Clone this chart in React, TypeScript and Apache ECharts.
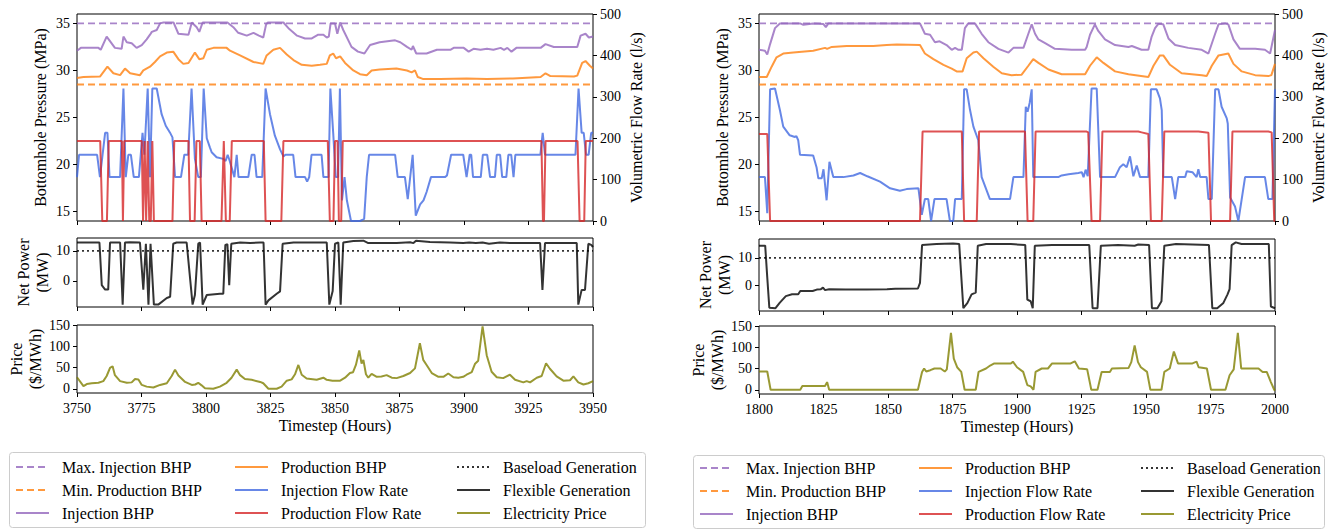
import React, { useEffect, useRef } from "react";
import * as echarts from "echarts";

const FONT = "Liberation Serif";

// ---------- constants / ticks ----------
const maxInjectionBhp = 35;
const minProductionBhp = 28.5;
const baseloadMW = 10;
const rangeL = [3750, 3950];
const rangeR = [1800, 2000];
const hourTicksL = [3750, 3775, 3800, 3825, 3850, 3875, 3900, 3925, 3950];
const hourTicksR = [1800, 1825, 1850, 1875, 1900, 1925, 1950, 1975, 2000];
const bhpTicks = [15, 20, 25, 30, 35];
const flowTicks = [0, 100, 200, 300, 400, 500];
const powerTicks = [0, 10];
const priceTicks = [0, 50, 100, 150];

// ---------- left panel (hours 3750-3950) ----------
const injBhpL: [number, number][] = [
  [3750, 32.1], [3751.5, 32.4], [3758.3, 32.4], [3759.2, 32.2], [3761.5, 33.6], [3764.7, 32.4], [3767.3, 32.3],
  [3768, 33.6], [3769.3, 33.0], [3771.2, 32.9], [3773.1, 32.4], [3775.1, 32.7], [3777, 33.3], [3778.3, 33.8],
  [3779, 34.1], [3780.9, 34.3], [3782.2, 35.0], [3783.5, 35.1], [3787.4, 35.1], [3789.3, 33.9], [3793.2, 33.8],
  [3794.5, 35.1], [3796.4, 34.6], [3797.4, 34.1], [3798.7, 35.1], [3808.3, 35.1], [3810.6, 34.6], [3812.5, 34.0],
  [3815.8, 33.7], [3818.4, 34.0], [3820.5, 33.7], [3822.2, 33.5], [3823.3, 34.9], [3824, 35.1], [3830, 35.1],
  [3832.3, 34.4], [3835.3, 33.7], [3838.4, 33.4], [3841, 33.4], [3843.5, 33.8], [3845.5, 33.8], [3846.8, 33.5],
  [3847.6, 33.6], [3848.3, 35.0], [3850, 35.0], [3850.9, 33.9], [3852, 35.1], [3853.2, 34.3], [3856.4, 32.5],
  [3858.9, 32.0], [3861.4, 31.8], [3863.6, 32.7], [3867.3, 33.0], [3873.3, 33.2], [3875.3, 33.0], [3877.9, 32.5],
  [3879.7, 32.2], [3880.2, 32.6], [3881.5, 31.8], [3885.5, 31.8], [3889.5, 32.2], [3894.7, 32.2], [3896, 32.4],
  [3899.9, 32.4], [3901.8, 32.0], [3903.7, 32.3], [3906.4, 32.2], [3908.9, 32.3], [3911.4, 32.2], [3914.2, 32.4],
  [3915.5, 32.2], [3916.8, 32.4], [3918.4, 32.0], [3920.3, 32.4], [3929.7, 32.4], [3931.6, 32.8], [3934.8, 32.5],
  [3943.9, 32.5], [3945.2, 33.7], [3947.1, 33.9], [3948.4, 33.5], [3950, 33.6],
];
const prodBhpL: [number, number][] = [
  [3750, 29.2], [3752.5, 29.3], [3758.9, 29.35], [3761.8, 30.4], [3764.1, 29.7], [3766.7, 29.5], [3768.6, 30.2],
  [3770.6, 29.7], [3774.4, 29.5], [3775.7, 30.0], [3778.3, 30.4], [3780.2, 30.9], [3782.2, 31.5], [3784.8, 31.9],
  [3787.3, 32.0], [3789.3, 31.2], [3791.2, 30.7], [3793.2, 30.8], [3795.7, 31.9], [3797.4, 31.2], [3799, 31.3],
  [3800.3, 32.2], [3802.9, 32.4], [3808, 32.4], [3809.3, 32.1], [3813.2, 31.6], [3818.4, 30.9], [3822.2, 30.7],
  [3823.5, 31.6], [3826.1, 32.2], [3828.7, 32.4], [3831.3, 31.7], [3833.9, 31.1], [3837.1, 30.6], [3841, 30.5],
  [3844.2, 30.6], [3846.8, 30.7], [3848, 31.6], [3849.3, 31.8], [3850.4, 31.3], [3852, 31.5], [3853.9, 30.8],
  [3857.1, 30.0], [3859.7, 29.6], [3862.3, 29.5], [3864.2, 30.0], [3867.3, 30.1], [3873.8, 30.2], [3877.9, 30.0],
  [3879.7, 29.8], [3881, 30.0], [3882.1, 29.3], [3884, 29.1], [3890.8, 29.1], [3901, 29.15], [3908.9, 29.1],
  [3919, 29.15], [3929.7, 29.3], [3931.6, 29.7], [3933.5, 29.4], [3942.6, 29.35], [3943.9, 29.45], [3945.8, 30.8],
  [3947.1, 31.0], [3948.8, 30.5], [3950, 30.2],
];
const injFlowL: [number, number][] = [
  [3750, 106], [3750.8, 160], [3757.8, 160], [3758.9, 106], [3760.9, 213], [3761.8, 213], [3762.6, 106],
  [3766.7, 106], [3768, 320], [3768.9, 106], [3769.9, 160], [3770.9, 160], [3772, 106], [3774, 106],
  [3775.4, 213], [3776.1, 160], [3777.4, 320], [3778.3, 106], [3779.2, 320], [3780.9, 320], [3782.8, 258],
  [3784.4, 230], [3786, 214], [3787, 202], [3788, 106], [3790.3, 106], [3791.6, 160], [3793.1, 160],
  [3794.4, 320], [3795.7, 150], [3797, 106], [3798, 106], [3799.1, 320], [3800.3, 200], [3801.5, 178],
  [3802.2, 166], [3804.1, 154], [3806.7, 150], [3807.6, 145], [3808.4, 160], [3809.2, 145], [3811, 106],
  [3811.9, 160], [3812.6, 106], [3816.4, 106], [3817.7, 160], [3818.8, 160], [3819.6, 106], [3821.8, 106],
  [3823.1, 320], [3824.8, 258], [3826.7, 206], [3828.7, 173], [3830, 156], [3830.8, 160], [3833.8, 160],
  [3834.7, 106], [3838.4, 106], [3839.2, 95], [3840, 106], [3840.9, 160], [3844.8, 160], [3845.5, 106],
  [3847.5, 106], [3848.2, 320], [3849.3, 213], [3850.3, 106], [3851.2, 106], [3851.9, 320], [3852.7, 50],
  [3853.7, 106], [3854.6, 50], [3856.2, 0], [3859.7, 0], [3861.3, 5], [3862.3, 106], [3863.2, 160],
  [3873.3, 160], [3874.3, 106], [3877.1, 106], [3878.2, 53], [3880.1, 160], [3881.3, 13], [3883, 40],
  [3884.3, 50], [3885.5, 70], [3887.2, 106], [3892.6, 106], [3893.4, 110], [3895, 160], [3899.7, 160],
  [3901, 106], [3902.2, 160], [3902.8, 160], [3903.5, 106], [3906.5, 106], [3907.3, 160], [3909, 160],
  [3910.1, 106], [3912, 106], [3912.7, 160], [3914, 160], [3914.8, 106], [3916.4, 106], [3917.2, 160],
  [3918.3, 160], [3919.2, 106], [3919.9, 160], [3929.6, 160], [3930.5, 213], [3931.4, 160], [3943.2, 160],
  [3944.4, 320], [3945.6, 213], [3946.4, 213], [3947.3, 160], [3948.3, 160], [3949.3, 213], [3950, 213],
];
const prodFlowL: [number, number][] = [
  [3750, 193], [3759, 193], [3759.8, 0], [3761.6, 0], [3762.3, 193], [3767.4, 193], [3767.8, 0], [3768.3, 193],
  [3775.1, 193], [3775.6, 0], [3776.2, 193], [3776.8, 0], [3777.4, 193], [3778, 0], [3778.6, 0], [3779.2, 193],
  [3779.8, 0], [3787, 0], [3787.7, 193], [3793.2, 193], [3793.8, 0], [3795.6, 0], [3796.3, 193], [3797.6, 193],
  [3798.3, 0], [3806, 0], [3806.9, 193], [3807.7, 0], [3809.2, 0], [3810, 193], [3822.4, 193], [3823.1, 0],
  [3829.2, 0], [3830, 193], [3847.2, 193], [3848, 0], [3849.4, 0], [3850, 193], [3851, 193], [3851.5, 0],
  [3852.4, 0], [3853, 193], [3930, 193], [3930.6, 0], [3931, 0], [3931.6, 193], [3944, 193], [3944.8, 0],
  [3946.6, 0], [3947.2, 193], [3950, 193],
];
const netPowerL: [number, number][] = [
  [3750, 12.8], [3758.7, 12.8], [3759.6, -1.4], [3760.9, -2.9], [3762.1, -2.9], [3762.8, 12.8], [3766.7, 12.8],
  [3767.7, -7.9], [3768.6, 12.8], [3770.5, 12.9], [3774.4, 12.8], [3775.7, -2.9], [3776.7, 12.4], [3777.7, -7.9],
  [3778.5, 12.4], [3779.8, -7.9], [3781.5, -7.9], [3784.8, -5.7], [3786.1, -5.3], [3787.3, 12.4], [3788.6, 12.8],
  [3792.5, 12.8], [3794.8, -7.9], [3795.7, -4.7], [3797, 12.4], [3797.7, 12.8], [3798.7, -7.9], [3800.3, -4.7],
  [3805.4, -4.3], [3806.7, -4.3], [3807.5, 12.0], [3808.3, 12.2], [3809, -1.4], [3809.8, 12.4], [3813.2, 12.8],
  [3817.1, 12.6], [3821, 12.8], [3822.3, 12.8], [3823.1, -7.9], [3824.2, -6.5], [3827.4, -4.3], [3828.7, -3.5],
  [3829.7, 12.4], [3833.9, 12.8], [3846.8, 12.8], [3847.8, -7.9], [3849.1, -3.4], [3850, 12.4], [3851.3, 12.8],
  [3852.2, -7.9], [3853.2, 12.8], [3857.1, 13.3], [3861, 13.4], [3862.9, 12.6], [3873.9, 12.6], [3879.1, 12.9],
  [3880.4, 12.6], [3881.4, 13.4], [3886.8, 13.0], [3894.6, 12.8], [3899.7, 12.6], [3902, 12.8], [3904.6, 12.6],
  [3907.2, 12.8], [3909.7, 12.4], [3913.9, 12.8], [3917.8, 12.6], [3929.5, 12.6], [3930.4, -3.0], [3931.4, 12.6],
  [3943.7, 12.6], [3944.3, -7.9], [3945.6, -3.0], [3946.9, -3.0], [3948.2, 12.4], [3949.3, 12.0], [3950, 11.3],
];
const priceL: [number, number][] = [
  [3750, 27], [3752.5, 6], [3753.8, 11], [3755.7, 13], [3758.3, 14], [3760.2, 18], [3761.5, 30], [3762.8, 49],
  [3763.8, 53], [3764.7, 32], [3766.7, 18], [3769.3, 14], [3771.2, 15], [3772.5, 23], [3773.8, 22], [3775.1, 9],
  [3777, 5], [3779.6, 3], [3782.2, 9], [3784.8, 13], [3786.7, 30], [3788, 45], [3789.3, 31], [3791.9, 16],
  [3794.5, 9], [3795.8, 10], [3797, 14], [3798.3, 8], [3799.6, 1], [3802.8, 0], [3805.4, 5], [3808, 14],
  [3809.9, 26], [3811.9, 45], [3813.2, 32], [3815.1, 23], [3817.7, 21], [3821, 16], [3822.2, 13], [3824.2, 0],
  [3827.4, 0], [3829.3, 5], [3831.3, 19], [3833.2, 22], [3834.5, 34], [3835.8, 56], [3837.1, 33], [3839, 24],
  [3842.9, 21], [3845.5, 26], [3846.8, 21], [3849, 19], [3852, 19], [3853.9, 26], [3855.8, 37], [3857, 39],
  [3858.1, 56], [3859.4, 90], [3860.3, 59], [3861, 68], [3862, 34], [3862.9, 26], [3864.2, 35], [3866.2, 28],
  [3868, 29], [3870, 32], [3872, 26], [3873.9, 25], [3876.5, 30], [3879.1, 37], [3881, 48], [3882.9, 107],
  [3884.2, 68], [3885.5, 56], [3887.5, 37], [3890.1, 28], [3892, 28], [3893.9, 36], [3895.9, 27], [3897.8, 26],
  [3899.7, 28], [3901, 33], [3903, 39], [3904.3, 59], [3905.5, 66], [3907.2, 147], [3908.8, 79], [3910.7, 40],
  [3912.7, 27], [3915.2, 25], [3917.8, 33], [3919.8, 21], [3923, 15], [3924.3, 18], [3925.6, 15], [3928.2, 26],
  [3930.1, 30], [3931.8, 60], [3933.3, 47], [3935.9, 29], [3938.5, 19], [3941.1, 20], [3942.4, 29], [3944.3, 15],
  [3946.3, 10], [3948.2, 13], [3950, 18],
];

// ---------- right panel (hours 1800-2000) ----------
const injBhpR: [number, number][] = [
  [1800, 32.2], [1802.3, 32.1], [1803.2, 31.7], [1804.3, 32.8], [1806.2, 34.5], [1808.1, 35.0], [1815.9, 35.0],
  [1817.2, 34.85], [1821, 35.0], [1824.9, 34.95], [1825.9, 34.6], [1826.9, 35.0], [1862.4, 35.0], [1864.3, 33.9],
  [1866.3, 33.8], [1868.2, 33.0], [1870, 33.1], [1872.7, 32.7], [1874.7, 32.2], [1876, 32.4], [1877.3, 32.2],
  [1878.6, 32.2], [1879.8, 34.5], [1881.1, 35.0], [1883.7, 35.0], [1886.3, 33.9], [1888.9, 33.0], [1892.8, 32.3],
  [1896.7, 31.9], [1898.6, 32.4], [1902.5, 32.4], [1904.4, 33.9], [1905.7, 34.9], [1907, 33.9], [1908.3, 33.3],
  [1910.9, 32.9], [1914.7, 32.3], [1921.2, 32.2], [1926.4, 32.2], [1927, 32.5], [1928.3, 33.8], [1930.2, 34.9],
  [1931.5, 34.2], [1934.1, 33.3], [1938, 32.7], [1943.2, 32.5], [1944.5, 32.6], [1948.3, 32.2], [1950.9, 32.2],
  [1952.2, 33.6], [1953.5, 34.5], [1954.8, 34.95], [1956.7, 34.9], [1958.7, 33.4], [1961.3, 32.7], [1966.4, 32.4],
  [1971.6, 32.2], [1974.2, 31.8], [1976.8, 33.9], [1978.1, 34.9], [1980.6, 35.0], [1981.9, 34.9], [1983.9, 33.3],
  [1986.4, 32.3], [1992.3, 32.3], [1996.1, 32.2], [1998.1, 31.8], [2000, 34.3],
];
const prodBhpR: [number, number][] = [
  [1800, 29.3], [1803, 29.3], [1804.9, 30.4], [1806.8, 31.4], [1809.4, 31.8], [1813.3, 31.9], [1821, 32.1],
  [1825.6, 32.4], [1826.4, 32.3], [1828.2, 32.5], [1834, 32.6], [1844.3, 32.6], [1849.5, 32.7], [1853.4, 32.75],
  [1862.4, 32.7], [1864.3, 31.8], [1867.6, 31.2], [1871.5, 30.6], [1874.7, 30.2], [1876.6, 29.9], [1878.9, 29.9],
  [1880.5, 31.3], [1883.1, 31.9], [1884.4, 32.0], [1887, 31.3], [1890.8, 30.4], [1894.1, 29.7], [1897.9, 29.5],
  [1901.8, 29.55], [1904.4, 30.5], [1906.3, 31.2], [1908.3, 30.8], [1912.2, 30.1], [1917.3, 29.6], [1926.4, 29.6],
  [1928.3, 30.5], [1930.9, 31.4], [1933.5, 30.8], [1938, 29.9], [1943.2, 29.6], [1950.9, 29.3], [1952.9, 30.5],
  [1955.4, 31.6], [1956.7, 31.6], [1959.3, 30.6], [1963.8, 29.7], [1971.6, 29.5], [1973.5, 29.4], [1975.5, 30.5],
  [1978.1, 31.6], [1981.9, 31.8], [1983.9, 30.7], [1987.1, 29.9], [1992.3, 29.5], [1997.4, 29.4], [1998.6, 29.5],
  [2000, 30.7],
];
const injFlowR: [number, number][] = [
  [1800, 106], [1802.3, 106], [1803.2, 19], [1804.3, 318], [1806.2, 320], [1808.1, 268], [1809.4, 228],
  [1811.9, 207], [1813.9, 203], [1814.5, 205], [1815.2, 195], [1815.9, 160], [1821, 158], [1822.3, 130],
  [1823, 103], [1824.3, 103], [1825, 125], [1826.2, 50], [1827.3, 143], [1828.8, 106], [1832.7, 106],
  [1836.6, 110], [1839.2, 116], [1842, 108], [1846.9, 95], [1850.8, 79], [1854.6, 73], [1857.2, 77],
  [1861.8, 79], [1863.1, 15], [1864.3, 53], [1865.6, 53], [1866.7, 0], [1868, 53], [1872.7, 53], [1874, 0],
  [1875.3, 0], [1876, 53], [1878.6, 53], [1879.5, 318], [1880.5, 318], [1881.8, 268], [1883.1, 228],
  [1885, 195], [1886.3, 106], [1889.5, 53], [1897.3, 53], [1898.6, 106], [1902.5, 106], [1903.4, 276],
  [1904.1, 264], [1904.9, 285], [1905.7, 318], [1906.3, 106], [1916, 106], [1917.3, 110], [1920, 113],
  [1923.8, 116], [1925.1, 118], [1925.8, 106], [1926.6, 124], [1927.4, 108], [1928.9, 320], [1930.9, 320],
  [1932.2, 106], [1938, 106], [1939.9, 130], [1941.2, 137], [1942.5, 130], [1943.8, 156], [1945.1, 108],
  [1946.4, 134], [1947.7, 106], [1950.9, 106], [1951.9, 318], [1954.1, 318], [1955.4, 296], [1956.1, 268],
  [1956.7, 106], [1960, 106], [1961.3, 53], [1962.5, 106], [1965.2, 106], [1965.8, 120], [1968, 118],
  [1969.6, 106], [1970.3, 125], [1971, 106], [1973.5, 106], [1974.2, 53], [1975.5, 53], [1976.8, 318],
  [1978.1, 318], [1979.3, 276], [1981.3, 248], [1981.7, 235], [1982.6, 57], [1984.5, 35], [1985.8, 0],
  [1988.4, 106], [1996.1, 106], [1997.4, 53], [1999, 53], [2000, 318],
];
const prodFlowR: [number, number][] = [
  [1800, 210], [1803.2, 210], [1804.3, 0], [1862.4, 0], [1863.4, 216], [1878.6, 216], [1879.5, 0], [1884.4, 0],
  [1885.3, 216], [1903.1, 216], [1904.1, 0], [1906.3, 0], [1907.2, 216], [1927, 216], [1927.6, 214], [1928.9, 0],
  [1932.2, 0], [1933.1, 216], [1947, 216], [1948.3, 214], [1950.9, 210], [1951.9, 0], [1956.1, 0], [1957.1, 216],
  [1970.3, 216], [1974.2, 213], [1975.2, 0], [1982.6, 0], [1983.5, 216], [1997.4, 216], [1998.7, 214],
  [1999.7, 0], [2000, 0],
];
const netPowerR: [number, number][] = [
  [1800, 14.4], [1802.4, 14.4], [1803.2, 3], [1804, -7.9], [1806.4, -8.1], [1808, -6.2], [1810.4, -3.75],
  [1812.8, -3.1], [1815.2, -3.1], [1816, -1.9], [1820.8, -1.9], [1822.4, -1.4], [1824, -1.25], [1824.8, -0.7],
  [1825.6, -1.6], [1827.2, -1.25], [1833.6, -1.4], [1841.6, -1.4], [1849.6, -1.25], [1852.8, -1.1], [1861.6, -1.0],
  [1862.4, 1], [1863.2, 14.6], [1868.8, 15.0], [1875.2, 15.2], [1877.6, 15.0], [1879.2, -8.1], [1880.8, -6.2],
  [1882.4, -3.1], [1884, -2.5], [1884.8, 14.4], [1888, 15.0], [1897.6, 15.0], [1903.2, 14.6], [1904, -5],
  [1905.3, -5.6], [1906.1, -8.1], [1906.9, 14.4], [1913.6, 14.6], [1928, 14.6], [1929.3, -8.1], [1931.2, -8.1],
  [1932.5, 14.4], [1939.2, 14.6], [1945.6, 14.4], [1947, 14.8], [1951.2, 14.6], [1952.3, -8.1], [1954.4, -8.1],
  [1956, -5.6], [1957.1, 14.4], [1961.6, 15.0], [1974.4, 14.6], [1975.7, -8.1], [1977.6, -8.1], [1980, -6.2],
  [1981.6, -3.1], [1982.4, -1.25], [1983.2, 14.6], [1984.8, 15.6], [1987, 15.0], [1997.6, 15.0], [1998.4, -7.5],
  [2000, -8.1],
];
const priceR: [number, number][] = [
  [1800, 43], [1803.2, 43], [1804.5, 0], [1816, 0], [1816.8, 9], [1825.6, 9], [1826.4, 18], [1827.2, 0],
  [1861.6, 0], [1863.2, 42], [1864, 50], [1864.8, 43], [1866.4, 46], [1868, 50], [1870.4, 50], [1872, 43],
  [1872.8, 48], [1874.4, 134], [1875.5, 73], [1876.8, 53], [1878.4, 42], [1879.7, 0], [1884, 0], [1885.1, 42],
  [1888, 50], [1889.6, 57], [1891.2, 62], [1897.6, 62], [1898.4, 66], [1900, 53], [1902.4, 42], [1904, 11],
  [1905.3, 8], [1906.4, 0], [1907.2, 42], [1909.6, 50], [1912, 50], [1913.6, 62], [1920.8, 62], [1922.4, 67],
  [1924, 50], [1927.2, 48], [1928.8, 0], [1931.2, 0], [1932.8, 42], [1936, 42], [1936.8, 50], [1943.2, 51],
  [1944.3, 65], [1945.6, 104], [1946.9, 65], [1948, 53], [1950.4, 42], [1951.7, 0], [1956, 0], [1957.1, 42],
  [1959.2, 50], [1960.8, 90], [1962.4, 62], [1968, 62], [1969.6, 66], [1970.4, 53], [1973.6, 50], [1975.2, 0],
  [1980.8, 0], [1982.4, 34], [1984, 48], [1985.6, 134], [1986.9, 50], [1993.6, 50], [1995.2, 42], [1996.8, 42],
  [1998.4, 18], [1999.7, 0], [2000, -2],
];

const legendCols = [
  ["Max. Injection BHP", "Min. Production BHP", "Injection BHP"],
  ["Production BHP", "Injection Flow Rate", "Production Flow Rate"],
  ["Baseload Generation", "Flexible Generation", "Electricity Price"],
];

const C = {
  purple: "#9467bd",
  orange: "#ff7f0e",
  blue: "#4169e1",
  red: "#d62728",
  black: "#000000",
  olive: "#808000",
};

function lineSeries(name: string, data: any, color: string, xi: number, yi: number, type: any = "solid", width = 2) {
  return {
    type: "line",
    name,
    data,
    xAxisIndex: xi,
    yAxisIndex: yi,
    symbol: "none",
    showSymbol: false,
    silent: true,
    lineStyle: { color, width, opacity: 0.8, type },
    itemStyle: { color, opacity: 0.8 },
    emphasis: { disabled: true },
  };
}

const TICK_FS = 14;
const NAME_FS = 16;
const plain = (v: number) => String(v);

function xAxisDef(gi: number, range: number[], ticks: number[], showLabel: boolean) {
  return {
    type: "value",
    gridIndex: gi,
    min: range[0],
    max: range[1],
    axisLine: { show: false, onZero: false },
    splitLine: { show: false },
    axisTick: { show: true, length: 4, inside: false, customValues: ticks, lineStyle: { color: "#000" } },
    axisLabel: {
      show: showLabel,
      customValues: ticks,
      formatter: plain,
      margin: 8,
      fontSize: TICK_FS,
      color: "#000",
      fontFamily: FONT,
    },
    name: showLabel ? "Timestep (Hours)" : "",
    nameLocation: "middle",
    nameGap: 24,
    nameTextStyle: { fontSize: NAME_FS, color: "#000", fontFamily: FONT },
  };
}

function yAxisDef(gi: number, min: number, max: number, ticks: number[], name: string, position: string, gap: number) {
  return {
    type: "value",
    gridIndex: gi,
    min,
    max,
    position,
    axisLine: { show: false, onZero: false },
    splitLine: { show: false },
    axisTick: { show: true, length: 4, inside: false, customValues: ticks, lineStyle: { color: "#000" } },
    axisLabel: { customValues: ticks, formatter: plain, margin: 7, fontSize: TICK_FS, color: "#000", fontFamily: FONT },
    name,
    nameLocation: "middle",
    nameRotate: 90,
    nameGap: gap,
    nameTextStyle: { fontSize: NAME_FS, color: "#000", fontFamily: FONT, lineHeight: 19 },
  };
}

function buildPanel(
  off: number,
  range: number[],
  ticks: number[],
  d: { injBhp: any; prodBhp: any; injFlow: any; prodFlow: any; net: any; price: any },
  netRange: number[],
  gridsTop: { top: number; h: number }[]
) {
  const gi = off * 3;
  const yi = off * 4;
  const left = off === 0 ? 77 : 759;
  const grids = gridsTop.map((g) => ({
    left,
    top: g.top,
    width: 516,
    height: g.h,
    show: true,
    borderColor: "#000",
    borderWidth: 1,
    backgroundColor: "transparent",
  }));
  const xAxes = [
    xAxisDef(gi, range, ticks, false),
    xAxisDef(gi + 1, range, ticks, false),
    xAxisDef(gi + 2, range, ticks, true),
  ];
  const yAxes = [
    yAxisDef(gi, 14, 36, bhpTicks, "Bottomhole Pressure (MPa)", "left", 27),
    yAxisDef(gi, 0, 500, flowTicks, "Volumetric Flow Rate (l/s)", "right", 34),
    yAxisDef(gi + 1, netRange[0], netRange[1], powerTicks, "Net Power\n(MW)", "left", 24),
    yAxisDef(gi + 2, -10, 150, priceTicks, "Price\n($/MWh)", "left", 24),
  ];
  const maxLine = [[range[0], maxInjectionBhp], [range[1], maxInjectionBhp]];
  const minLine = [[range[0], minProductionBhp], [range[1], minProductionBhp]];
  const baseLine = [[range[0], baseloadMW], [range[1], baseloadMW]];
  const series = [
    lineSeries("Max. Injection BHP", maxLine, C.purple, gi, yi, [7, 4], 1.6),
    lineSeries("Min. Production BHP", minLine, C.orange, gi, yi, [7, 4], 2),
    lineSeries("Injection BHP", d.injBhp, C.purple, gi, yi),
    lineSeries("Production BHP", d.prodBhp, C.orange, gi, yi),
    lineSeries("Injection Flow Rate", d.injFlow, C.blue, gi, yi + 1),
    lineSeries("Production Flow Rate", d.prodFlow, C.red, gi, yi + 1),
    lineSeries("Baseload Generation", baseLine, C.black, gi + 1, yi + 2, [2, 3], 1.6),
    lineSeries("Flexible Generation", d.net, C.black, gi + 1, yi + 2),
    lineSeries("Electricity Price", d.price, C.olive, gi + 2, yi + 3),
  ];
  return { grids, xAxes, yAxes, series };
}

function legendDefs(baseX: number, top: number) {
  const xs = [baseX + 6, baseX + 225, baseX + 447];
  return legendCols.map((names, i) => ({
    orient: "vertical",
    left: xs[i],
    top,
    padding: 0,
    itemWidth: 33,
    itemHeight: 14,
    itemGap: 7,
    selectedMode: false,
    data: names,
    itemStyle: { opacity: 0 },
    textStyle: { fontSize: NAME_FS, color: "#000", fontFamily: FONT, padding: [0, 0, 0, 8], lineHeight: 14 },
  }));
}

export default function App() {
  const ref = useRef<HTMLDivElement>(null);
  useEffect(() => {
    if (!ref.current) return;
    const chart = echarts.init(ref.current, undefined, { renderer: "svg" });
    const L = buildPanel(
      0,
      rangeL,
      hourTicksL,
      { injBhp: injBhpL, prodBhp: prodBhpL, injFlow: injFlowL, prodFlow: prodFlowL, net: netPowerL, price: priceL },
      [-8.7, 14.3],
      [{ top: 14, h: 207 }, { top: 238, h: 69 }, { top: 325, h: 68 }]
    );
    const R = buildPanel(
      1,
      rangeR,
      hourTicksR,
      { injBhp: injBhpR, prodBhp: prodBhpR, injFlow: injFlowR, prodFlow: prodFlowR, net: netPowerR, price: priceR },
      [-9.1, 16.8],
      [{ top: 14, h: 207 }, { top: 239, h: 72 }, { top: 326, h: 68 }]
    );
    chart.setOption({
      animation: false,
      backgroundColor: "#fff",
      textStyle: { fontFamily: FONT },
      grid: [...L.grids, ...R.grids],
      xAxis: [...L.xAxes, ...R.xAxes],
      yAxis: [...L.yAxes, ...R.yAxes],
      series: [...L.series, ...R.series],
      legend: [...legendDefs(9, 459), ...legendDefs(693, 460)],
      graphic: [
        {
          type: "rect",
          z: -1,
          shape: { x: 9.5, y: 452.5, width: 636, height: 75, r: 3 },
          style: { fill: "#fff", stroke: "#cccccc", lineWidth: 1 },
        },
        {
          type: "rect",
          z: -1,
          shape: { x: 693.5, y: 455.5, width: 631, height: 73, r: 3 },
          style: { fill: "#fff", stroke: "#cccccc", lineWidth: 1 },
        },
      ],
    });
    return () => chart.dispose();
  }, []);
  return (
    <div
      ref={ref}
      style={{ position: "absolute", left: 0, top: 0, width: 1330, height: 530, background: "#fff" }}
    />
  );
}
